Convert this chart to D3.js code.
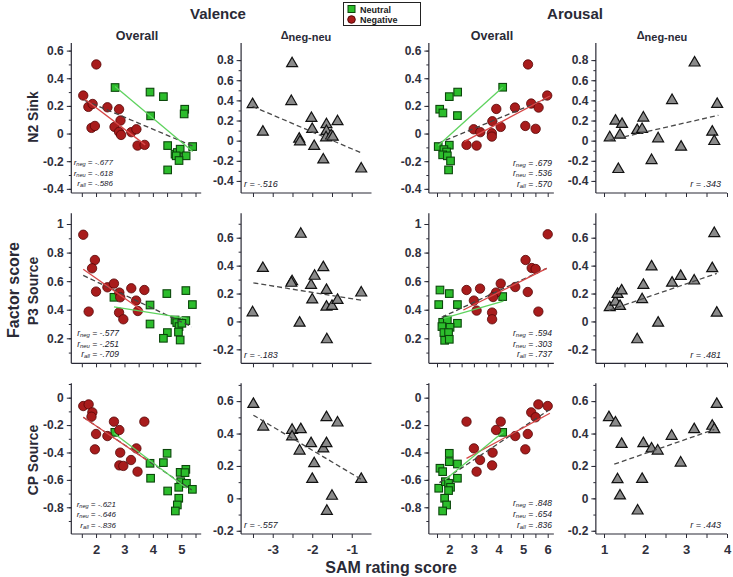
<!DOCTYPE html>
<html><head><meta charset="utf-8">
<script src="https://cdn.jsdelivr.net/npm/d3@7"></script>
<style>body{margin:0;background:#fff}svg{display:block}text{font-family:"Liberation Sans",Arial,sans-serif}</style>
</head><body><svg id="c" width="733" height="577"></svg>
<script>
// ---------------- DATA ----------------
// Valence, N2 Sink
const vN2neg = [[2.01,0.50],[1.55,0.275],[1.73,0.193],[1.88,0.214],[2.40,0.19],[2.81,0.176],[2.86,0.094],[2.65,0.048],[1.84,0.041],[1.96,0.055],[2.81,0.012],[2.88,-0.01],[3.24,0.010],[3.42,0.031],[3.46,-0.087],[3.71,-0.082]];
const vN2neu = [[2.67,0.333],[3.90,0.30],[4.37,0.267],[3.92,0.128],[5.12,0.176],[5.10,0.142],[4.52,-0.087],[5.40,-0.094],[4.78,-0.149],[4.86,-0.137],[4.96,-0.113],[4.82,-0.161],[5.17,-0.161],[4.92,-0.195],[4.52,-0.263]];
const dvN2 = [[-3.51,0.36],[-3.25,0.086],[-2.51,0.766],[-2.53,0.39],[-2.02,0.222],[-2.0,0.113],[-2.33,0.017],[-2.31,-0.01],[-1.95,-0.056],[-1.72,-0.19],[-1.64,0.16],[-1.64,0.093],[-1.65,0.03],[-1.52,0.05],[-1.48,0.036],[-1.36,0.19],[-0.76,-0.28]];
// Arousal, N2 Sink
const aN2neu = [[1.61,0.176],[1.74,0.149],[2.0,0.267],[2.34,0.30],[2.33,0.130],[4.17,0.335],[1.55,-0.094],[2.0,-0.084],[1.78,-0.116],[1.89,-0.133],[1.73,-0.154],[1.92,-0.161],[2.05,-0.198],[1.97,-0.263]];
const aN2neg = [[5.20,0.50],[5.98,0.275],[5.33,0.217],[5.63,0.188],[4.67,0.188],[3.91,0.178],[3.75,0.089],[4.09,0.048],[5.09,0.055],[5.51,0.034],[2.99,0.031],[3.26,0.010],[3.73,0.002],[3.73,-0.022],[2.70,-0.082],[3.11,-0.087]];
const daN2 = [[1.14,0.03],[1.28,0.196],[1.44,0.163],[1.39,0.056],[1.35,-0.285],[1.81,0.103],[1.93,0.113],[1.96,0.226],[2.16,-0.196],[2.32,0.02],[2.66,0.40],[2.88,-0.063],[3.21,0.773],[3.64,0.086],[3.69,-0.007],[3.76,0.362]];
// Valence, P3 Source
const vP3neg = [[1.55,0.925],[1.96,0.748],[1.86,0.69],[2.0,0.527],[1.74,0.387],[2.40,0.557],[2.63,0.583],[2.82,0.52],[2.85,0.487],[2.81,0.38],[2.96,0.333],[3.24,0.55],[3.41,0.464],[3.47,0.391],[3.70,0.538]];
const vP3neu = [[2.63,0.487],[3.90,0.433],[4.49,0.513],[5.16,0.534],[5.39,0.436],[3.90,0.30],[4.51,0.24],[4.37,0.20],[4.78,0.328],[4.84,0.31],[4.92,0.282],[4.90,0.244],[4.96,0.188],[5.16,0.324],[5.02,0.305]];
const dvP3 = [[-3.51,0.063],[-3.25,0.381],[-2.51,0.286],[-2.53,0.275],[-2.29,0.626],[-2.32,-0.011],[-2.03,0.26],[-1.94,0.325],[-2.0,0.155],[-1.72,0.387],[-1.64,0.224],[-1.64,0.104],[-1.63,-0.13],[-1.50,0.109],[-1.36,0.152],[-0.76,0.205]];
// Arousal, P3 Source
const aP3neu = [[1.62,0.538],[2.0,0.513],[1.57,0.436],[2.33,0.436],[4.17,0.492],[1.73,0.312],[1.92,0.328],[2.33,0.305],[1.70,0.282],[2.03,0.277],[1.78,0.24],[1.97,0.24],[1.81,0.186],[2.0,0.193]];
const aP3neg = [[6.0,0.928],[5.10,0.748],[5.35,0.692],[5.51,0.685],[5.19,0.524],[5.62,0.387],[4.68,0.559],[4.09,0.583],[3.90,0.52],[3.78,0.489],[3.74,0.38],[3.74,0.333],[3.25,0.548],[2.70,0.538],[3.0,0.464],[3.11,0.394]];
const daP3 = [[1.14,0.1],[1.28,0.14],[1.33,0.195],[1.43,0.22],[1.39,0.109],[1.81,-0.13],[1.96,0.26],[1.93,0.157],[2.16,0.392],[2.32,-0.011],[2.66,0.276],[2.87,0.324],[3.20,0.291],[3.64,0.38],[3.69,0.631],[3.75,0.061]];
// Valence, CP Source
const vCPneg = [[1.55,-0.061],[1.74,-0.049],[1.87,-0.107],[1.84,-0.139],[2.0,-0.265],[1.96,-0.377],[2.40,-0.28],[2.63,-0.175],[2.82,-0.236],[2.85,-0.401],[2.82,-0.494],[2.96,-0.498],[3.23,-0.455],[3.42,-0.37],[3.46,-0.54],[3.70,-0.175]];
const vCPneu = [[2.66,-0.253],[3.90,-0.479],[3.92,-0.588],[4.37,-0.474],[4.50,-0.406],[4.52,-0.681],[4.96,-0.545],[5.16,-0.523],[5.13,-0.547],[4.98,-0.613],[5.18,-0.625],[5.39,-0.669],[4.91,-0.654],[4.91,-0.734],[4.86,-0.783],[4.79,-0.827]];
const dvCP = [[-3.49,0.581],[-3.24,0.441],[-2.51,0.421],[-2.51,0.38],[-2.29,0.425],[-2.32,0.293],[-2.03,0.339],[-1.95,0.215],[-2.0,0.118],[-1.72,0.306],[-1.64,0.339],[-1.64,0.499],[-1.50,0.014],[-1.36,0.466],[-1.63,-0.079],[-0.76,0.118]];
// Arousal, CP Source
const aCPneu = [[1.62,-0.515],[1.73,-0.54],[2.0,-0.406],[2.0,-0.467],[2.33,-0.484],[2.33,-0.588],[4.17,-0.253],[1.57,-0.661],[1.84,-0.613],[1.97,-0.625],[2.05,-0.654],[1.97,-0.678],[1.81,-0.734],[1.89,-0.783],[1.73,-0.827]];
const aCPneg = [[5.62,-0.049],[6.0,-0.061],[5.33,-0.107],[5.51,-0.143],[4.09,-0.175],[2.70,-0.175],[3.90,-0.236],[5.19,-0.265],[4.68,-0.28],[3.0,-0.37],[5.09,-0.377],[3.76,-0.401],[3.25,-0.455],[3.74,-0.494],[3.11,-0.54]];
const daCP = [[1.12,0.499],[1.28,0.466],[1.43,0.334],[1.33,0.116],[1.39,0.016],[1.82,-0.077],[1.96,0.339],[1.93,0.118],[2.16,0.306],[2.31,0.293],[2.65,0.384],[2.87,0.219],[3.20,0.425],[3.64,0.446],[3.69,0.425],[3.75,0.581]];

// Regression line end points
const fitVN2 = {neg:[[1.61,0.248],[3.73,-0.082]], neu:[[2.67,0.34],[5.40,-0.13]], all:[[1.6,0.24],[5.4,-0.09]]};
const fitAN2 = {neg:[[2.61,-0.058],[6.09,0.272]], neu:[[1.55,-0.087],[4.17,0.335]], all:[[1.55,-0.07],[6.05,0.26]]};
const fitVP3 = {neg:[[1.55,0.683],[3.67,0.387]], neu:[[2.63,0.42],[5.19,0.34]], all:[[1.55,0.64],[5.37,0.28]]};
const fitAP3 = {neg:[[2.57,0.398],[5.96,0.69]], neu:[[1.76,0.34],[4.2,0.461]], all:[[1.69,0.347],[5.96,0.69]]};
const fitVCP = {neg:[[1.55,-0.143],[3.78,-0.455]], neu:[[2.63,-0.26],[5.19,-0.661]], all:[[1.55,-0.143],[5.37,-0.674]]};
const fitACP = {neg:[[2.70,-0.443],[6.09,-0.114]], neu:[[1.82,-0.60],[4.2,-0.248]], all:[[1.6,-0.62],[6.05,-0.09]]};
const fitDVN2 = [[-3.51,0.34],[-0.75,-0.123]];
const fitDAN2 = [[1.11,0.003],[3.79,0.252]];
const fitDVP3 = [[-3.49,0.276],[-0.75,0.152]];
const fitDAP3 = [[1.12,0.08],[3.75,0.344]];
const fitDVCP = [[-3.49,0.513],[-0.75,0.116]];
const fitDACP = [[1.25,0.211],[3.69,0.425]];

// correlation labels
const rVN2 = ["-.677","-.618","-.586"], rAN2 = [".679",".536",".570"];
const rVP3 = ["-.577","-.251","-.709"], rAP3 = [".594",".303",".737"];
const rVCP = ["-.621","-.646","-.836"], rACP = [".848",".654",".836"];
const rDelta = [["-.516",".343"],["-.183",".481"],["-.557",".443"]];

// axis ticks
const xMajorV = [2,3,4,5], xMinorV = [1.5,2,2.5,3,3.5,4,4.5,5,5.5];
const xMajorDV = [-3,-2,-1], xMinorDV = [-3.5,-3,-2.5,-2,-1.5,-1];
const xMajorA = [2,3,4,5,6], xMinorA = [1.5,2,2.5,3,3.5,4,4.5,5,5.5,6];
const xMajorDA = [1,2,3,4], xMinorDA = [1,1.5,2,2.5,3,3.5,4];
const yMajorN2 = [-0.4,-0.2,0,0.2,0.4,0.6], yMinorN2 = [-0.4,-0.3,-0.2,-0.1,0,0.1,0.2,0.3,0.4,0.5,0.6];
const yMajorDN2 = [-0.4,-0.2,0,0.2,0.4,0.6,0.8], yMinorDN2 = [-0.4,-0.3,-0.2,-0.1,0,0.1,0.2,0.3,0.4,0.5,0.6,0.7,0.8];
const yMajorP3 = [0.2,0.4,0.6,0.8,1], yMinorP3 = [0.1,0.2,0.3,0.4,0.5,0.6,0.7,0.8,0.9,1];
const yMajorDP3 = [-0.2,0,0.2,0.4,0.6], yMinorDP3 = [-0.2,-0.1,0,0.1,0.2,0.3,0.4,0.5,0.6,0.7];
const yMajorCP = [-0.8,-0.6,-0.4,-0.2,0], yMinorCP = [-0.9,-0.8,-0.7,-0.6,-0.5,-0.4,-0.3,-0.2,-0.1,0,0.1];
const yMajorDCP = [-0.2,0,0.2,0.4,0.6], yMinorDCP = [-0.2,-0.1,0,0.1,0.2,0.3,0.4,0.5,0.6,0.7];

const rowLabels = ["N2 Sink","P3 Source","CP Source"];

// ---------------- LAYOUT ----------------
const cols = [
  {d:[1.2,5.7],   r:[73.3,201.2], maj:xMajorV,  min:xMinorV},
  {d:[-3.75,-0.5],r:[243.1,371.5],maj:xMajorDV, min:xMinorDV},
  {d:[1.25,6.25], r:[430.85,553.85],maj:xMajorA,min:xMinorA},
  {d:[0.85,4.0],  r:[597.85,727], maj:xMajorDA, min:xMinorDA}
];
const rows = [
  {r:[193,43],   dO:[-0.43,0.655], dD:[-0.52,0.97], majO:yMajorN2,minO:yMinorN2,majD:yMajorDN2,minD:yMinorDN2},
  {r:[363.3,213.3],dO:[0.025,1.075],dD:[-0.3,0.775],majO:yMajorP3,minO:yMinorP3,majD:yMajorDP3,minD:yMinorDP3},
  {r:[534,383.3],dO:[-0.995,0.105],dD:[-0.22,0.71],majO:yMajorCP,minO:yMinorCP,majD:yMajorDCP,minD:yMinorDCP}
];
const panels = [
  {row:0,col:0,neg:vN2neg,neu:vN2neu,fit:fitVN2,r:rVN2,fs:8,rx:113,ry:[165,175.5,186]},
  {row:0,col:1,tri:dvN2,fitD:fitDVN2,rd:rDelta[0][0],ry:187},
  {row:0,col:2,neg:aN2neg,neu:aN2neu,fit:fitAN2,r:rAN2,fs:8.5,rx:552,ry:[165.5,176,186.5]},
  {row:0,col:3,tri:daN2,fitD:fitDAN2,rd:rDelta[0][1],ry:187},
  {row:1,col:0,neg:vP3neg,neu:vP3neu,fit:fitVP3,r:rVP3,fs:8.5,rx:119,ry:[336,346.5,357]},
  {row:1,col:1,tri:dvP3,fitD:fitDVP3,rd:rDelta[1][0],ry:357.5},
  {row:1,col:2,neg:aP3neg,neu:aP3neu,fit:fitAP3,r:rAP3,fs:8.5,rx:552,ry:[336,346.5,357]},
  {row:1,col:3,tri:daP3,fitD:fitDAP3,rd:rDelta[1][1],ry:357.5},
  {row:2,col:0,neg:vCPneg,neu:vCPneu,fit:fitVCP,r:rVCP,fs:8,rx:116,ry:[507,517,527.5]},
  {row:2,col:1,tri:dvCP,fitD:fitDVCP,rd:rDelta[2][0],ry:528},
  {row:2,col:2,neg:aCPneg,neu:aCPneu,fit:fitACP,r:rACP,fs:8.5,rx:552,ry:[506,516.5,527.5]},
  {row:2,col:3,tri:daCP,fitD:fitDACP,rd:rDelta[2][1],ry:528}
];

const AX = "#2a2a36";
const RED = "#a81c1c", REDS = "#560606", GRN = "#2cbd2c", GRNS = "#0b470b";
const svg = d3.select("#c");
svg.append("rect").attr("width",733).attr("height",577).attr("fill","#fff");

const fmtY = d => Math.abs(d) < 1e-9 ? "0" : (Math.abs(d - Math.round(d)) < 1e-9 ? String(Math.round(d)) : d.toFixed(1));

function rText(g, x, y, sub, val, size, anchor){
  const t = g.append("text").attr("x",x).attr("y",y).attr("text-anchor",anchor)
    .attr("font-style","italic").attr("font-size",size).attr("fill","#20202a");
  t.append("tspan").text("r");
  if (sub){
    t.append("tspan").attr("font-size",size*0.7).attr("dy",1.3).text(sub);
    t.append("tspan").attr("dy",-1.3).text(" = " + val);
  } else {
    t.append("tspan").text(" = " + val);
  }
}

panels.forEach(p => {
  const C = cols[p.col], R = rows[p.row];
  const isDelta = !!p.tri;
  const x = d3.scaleLinear().domain(C.d).range(C.r);
  const y = d3.scaleLinear().domain(isDelta ? R.dD : R.dO).range(R.r);
  const g = svg.append("g");
  const ax0 = C.r[0] - 2;
  // y axis
  const yg = g.append("g").attr("transform",`translate(${ax0},0)`);
  yg.call(d3.axisLeft(y).tickValues(isDelta?R.minD:R.minO).tickSize(2.5).tickSizeOuter(0).tickFormat(""));
  yg.select(".domain").remove();
  const yg2 = g.append("g").attr("transform",`translate(${ax0},0)`);
  yg2.call(d3.axisLeft(y).tickValues(isDelta?R.majD:R.majO).tickSize(4.5).tickSizeOuter(0).tickPadding(3).tickFormat(fmtY));
  yg2.select(".domain").remove();
  g.selectAll(".tick line").attr("stroke",AX).attr("stroke-width",1);
  yg2.selectAll(".tick text").attr("font-size",12).attr("font-weight","bold").attr("fill","#30303c")
     .attr("font-family","'Liberation Sans',Arial,sans-serif");
  g.append("line").attr("x1",ax0).attr("x2",ax0).attr("y1",R.r[0]).attr("y2",R.r[1]).attr("stroke",AX).attr("stroke-width",1.2);
  // x axis
  const xg = g.append("g").attr("transform",`translate(0,${R.r[0]})`);
  xg.call(d3.axisBottom(x).tickValues(C.min).tickSize(4).tickSizeOuter(0).tickFormat(""));
  xg.select(".domain").remove();
  xg.selectAll(".tick line").attr("stroke",AX);
  if (p.row === 2){
    const xg2 = g.append("g").attr("transform",`translate(0,${R.r[0]})`);
    xg2.call(d3.axisBottom(x).tickValues(C.maj).tickSize(0).tickPadding(11).tickFormat(d => String(d)));
    xg2.select(".domain").remove();
    xg2.selectAll(".tick text").attr("font-size",13).attr("font-weight","bold").attr("fill","#30303c")
       .attr("font-family","'Liberation Sans',Arial,sans-serif");
  }
  g.append("line").attr("x1",ax0).attr("x2",C.r[1]).attr("y1",R.r[0]).attr("y2",R.r[0]).attr("stroke",AX).attr("stroke-width",1.2);

  const line = d3.line().x(d => x(d[0])).y(d => y(d[1]));
  if (isDelta){
    g.selectAll("path.tri").data(p.tri).join("path").attr("class","tri")
      .attr("d", d3.symbol(d3.symbolTriangle, 52))
      .attr("transform", d => `translate(${x(d[0])},${y(d[1])})`)
      .attr("fill","#8a8a8a").attr("stroke","#111").attr("stroke-width",1.2);
    g.append("path").attr("d", line(p.fitD)).attr("fill","none").attr("stroke","#4a4a4a")
      .attr("stroke-width",1.3).attr("stroke-dasharray","5,3");
    const left = p.col === 1;
    rText(g, left ? C.r[0]+1 : C.r[1]-6, p.ry, null, p.rd, 9, left ? "start" : "end");
  } else {
    g.selectAll("rect.neu").data(p.neu).join("rect").attr("class","neu")
      .attr("x", d => x(d[0]) - 3.8).attr("y", d => y(d[1]) - 3.8).attr("width",7.6).attr("height",7.6)
      .attr("fill",GRN).attr("stroke",GRNS).attr("stroke-width",1.1);
    g.selectAll("circle.neg").data(p.neg).join("circle").attr("class","neg")
      .attr("cx", d => x(d[0])).attr("cy", d => y(d[1])).attr("r",4.7)
      .attr("fill",RED).attr("stroke",REDS).attr("stroke-width",0.8);
    g.append("path").attr("d", line(p.fit.all)).attr("fill","none").attr("stroke","#444")
      .attr("stroke-width",1.3).attr("stroke-dasharray","5,3");
    g.append("path").attr("d", line(p.fit.neg)).attr("fill","none").attr("stroke","#d84848").attr("stroke-width",1.3);
    g.append("path").attr("d", line(p.fit.neu)).attr("fill","none").attr("stroke","#5fd35f").attr("stroke-width",1.3);
    ["neg","neu","all"].forEach((s,i) => rText(g, p.rx, p.ry[i], s, p.r[i], p.fs, "end"));
  }
});

// Titles
const T = (x,y,txt,size,anchor="middle") => svg.append("text").attr("x",x).attr("y",y).attr("text-anchor",anchor)
   .attr("font-size",size).attr("font-weight","bold").attr("fill","#2a2a36").text(txt);
T(218,19,"Valence",15);
T(575,19,"Arousal",15);
T(137,40,"Overall",12.5);
T(492,40,"Overall",12.5);
[306,662].forEach(cx => {
  const t = svg.append("text").attr("x",cx).attr("y",40).attr("text-anchor","middle").attr("fill","#2a2a36").attr("font-weight","bold");
  t.append("tspan").attr("font-size",11).attr("dy",-1).text("Δ");
  t.append("tspan").attr("font-size",11).attr("dy",1.5).text("neg-neu");
});
rowLabels.forEach((lab,i) => {
  const cy = [117,291,460][i];
  svg.append("text").attr("transform",`translate(37.5,${cy}) rotate(-90)`).attr("text-anchor","middle")
    .attr("font-size",14).attr("font-weight","bold").attr("fill","#2a2a36").text(lab);
});
svg.append("text").attr("transform","translate(19,290) rotate(-90)").attr("text-anchor","middle")
  .attr("font-size",16).attr("font-weight","bold").attr("fill","#2a2a36").text("Factor score");
T(391,573,"SAM rating score",16);

// Legend
const lg = svg.append("g");
lg.append("rect").attr("x",343.5).attr("y",2.5).attr("width",77).attr("height",23).attr("fill","#fff").attr("stroke","#222").attr("stroke-width",1);
lg.append("rect").attr("x",348).attr("y",5.5).attr("width",7).attr("height",7).attr("fill",GRN).attr("stroke",GRNS);
lg.append("circle").attr("cx",351.5).attr("cy",19.5).attr("r",3.8).attr("fill",RED).attr("stroke",REDS);
lg.append("text").attr("x",360).attr("y",12.5).attr("font-size",9).attr("font-weight","bold").attr("fill","#222").text("Neutral");
lg.append("text").attr("x",360).attr("y",23).attr("font-size",9).attr("font-weight","bold").attr("fill","#222").text("Negative");
</script></body></html>
